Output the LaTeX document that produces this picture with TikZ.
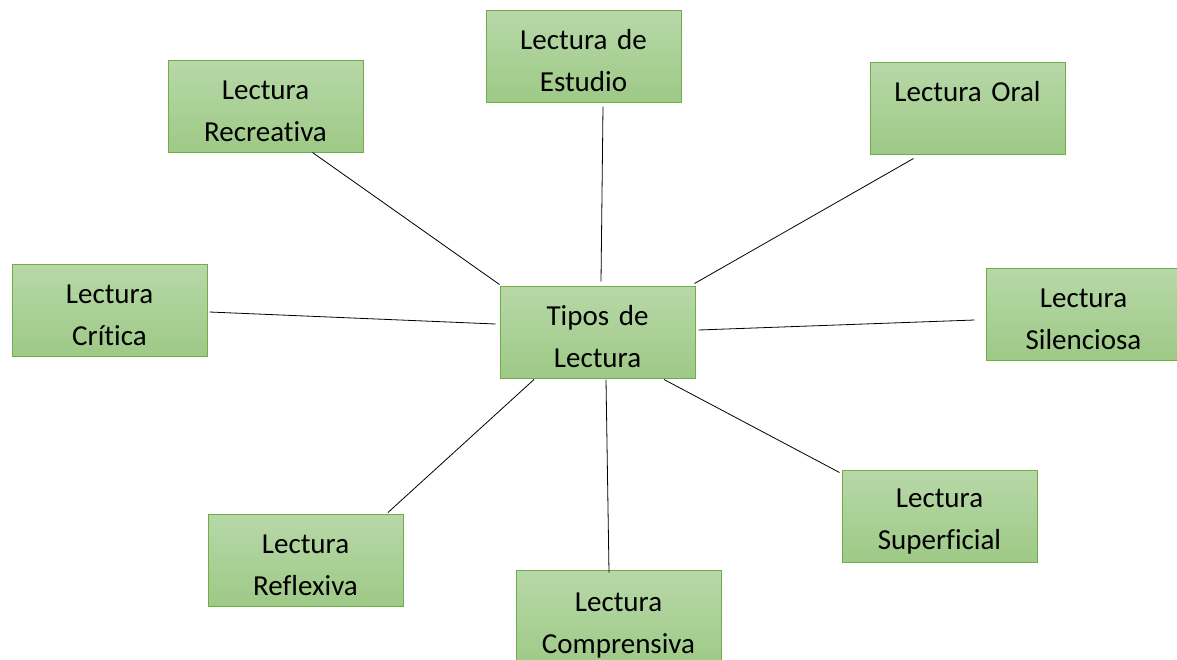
\documentclass[tikz,border=0pt]{standalone}
\usepackage{fontspec}
\setmainfont[Ligatures=NoCommon, WordSpace=0.8]{Carlito}
\definecolor{boxtop}{RGB}{183,216,168}
\definecolor{boxbottom}{RGB}{158,201,134}
\definecolor{boxline}{RGB}{112,173,71}
\tikzset{
    tipo/.style={draw=boxline, line width=1pt, top color=boxtop, bottom color=boxbottom,
        minimum width=195pt, minimum height=92pt, text width=190pt, align=center,
        inner sep=0pt, font=\fontsize{29}{42}\selectfont,
        execute at begin node=\rule{0pt}{29pt}},
    enlace/.style={black, line width=0.8pt}
}
\begin{document}
\begin{tikzpicture}[x=1pt, y=-1pt]
    \useasboundingbox (0,0) rectangle (1177,659);

    \node[tipo] (tipos) at (597.5,332) {Tipos de\\Lectura};
    \node[tipo] (estudio) at (583.5,56) {Lectura de\\Estudio};
    \node[tipo] (recreativa) at (265.5,106) {Lectura\\Recreativa};
    \node[tipo] (oral) at (967.5,108) {Lectura Oral\\\mbox{}};
    \node[tipo] (critica) at (109.5,310) {Lectura\\Crítica};
    \node[tipo] (silenciosa) at (1083.5,314) {Lectura\\Silenciosa};
    \node[tipo] (reflexiva) at (305.5,560) {Lectura\\Reflexiva};
    \node[tipo, minimum width=205pt, minimum height=100pt] (comprensiva) at (618.5,620) {Lectura\\Comprensiva};
    \node[tipo] (superficial) at (939.5,516) {Lectura\\Superficial};

    \draw[enlace] ([xshift=47pt]recreativa.south) -- ([yshift=1pt]tipos.north west);
    \draw[enlace] ([xshift=19.5pt, yshift=-4pt]estudio.south) -- ([xshift=3.5pt, yshift=4pt]tipos.north);
    \draw[enlace] ([xshift=-54pt, yshift=-4pt]oral.south) -- ([xshift=-1pt, yshift=2pt]tipos.north east);
    \draw[enlace] ([xshift=2pt, yshift=-2pt]critica.east) -- ([xshift=-4pt, yshift=8pt]tipos.west);
    \draw[enlace] ([xshift=-11pt, yshift=-6pt]silenciosa.west) -- ([xshift=3pt, yshift=2pt]tipos.east);
    \draw[enlace] ([xshift=82.5pt, yshift=1pt]reflexiva.north) -- ([xshift=-63.5pt, yshift=-1pt]tipos.south);
    \draw[enlace] ([xshift=-9.5pt, yshift=-3pt]comprensiva.north) -- ([xshift=8.5pt, yshift=-1pt]tipos.south);
    \draw[enlace] ([xshift=-2pt, yshift=-3pt]superficial.north west) -- ([xshift=66.5pt, yshift=-1pt]tipos.south);
\end{tikzpicture}
\end{document}
